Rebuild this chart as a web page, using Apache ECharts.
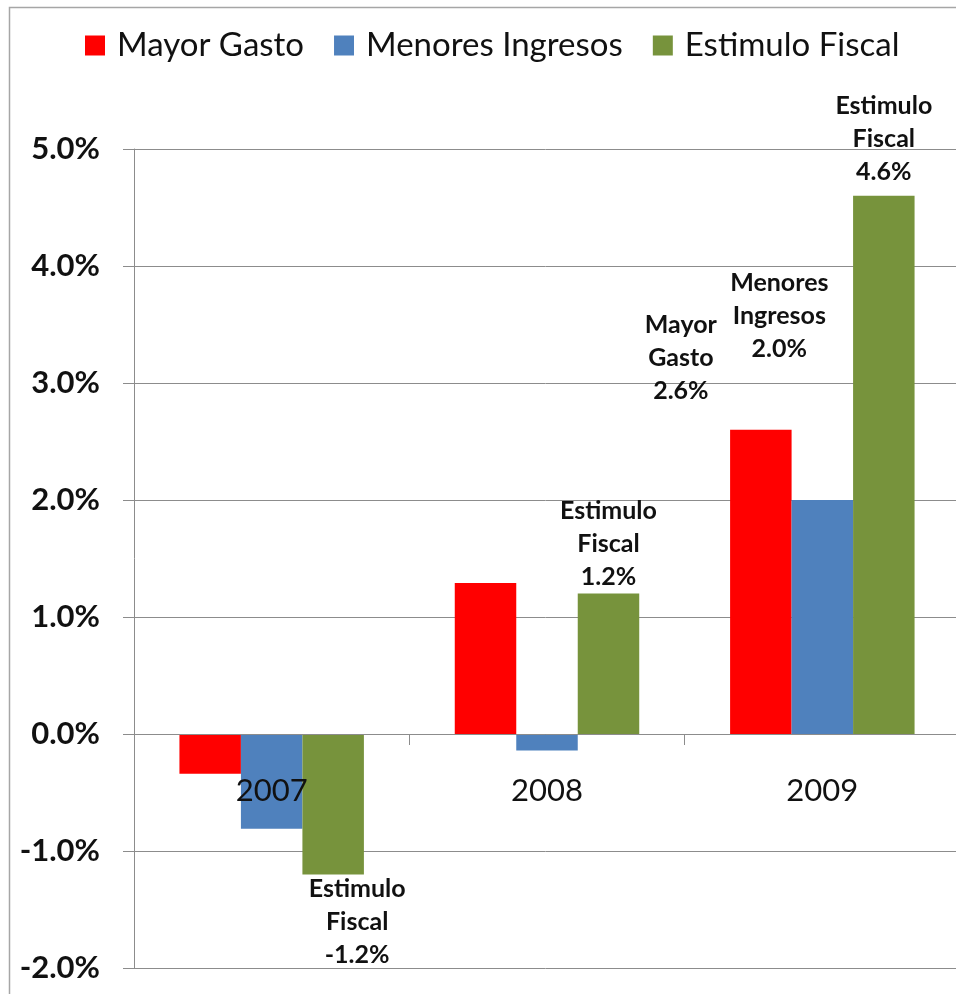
<!DOCTYPE html>
<html>
<head>
<meta charset="utf-8">
<script src="https://cdn.jsdelivr.net/npm/echarts@6/dist/echarts.min.js"></script>
<style>
  html, body { margin: 0; padding: 0; background: #ffffff; }
  #chart { width: 956px; height: 994px; }
</style>
</head>
<body>
<div id="chart"></div>
<script>
// Fiscal impulse by component, share of GDP
const categories = ['2007', '2008', '2009'];
const mayorGasto = [-0.34, 1.29, 2.6];
const menoresIngresos = [-0.81, -0.14, 2.0];
const estimuloFiscal = [-1.2, 1.2, 4.6];
const yMin = -2;
const yMax = 5;
const yStep = 1;

const FONT = 'Lato, "Open Sans", sans-serif';

function labelText(p) {
  return p.seriesName.replace(' ', '\n') + '\n' + p.value.toFixed(1) + '%';
}

const labelStyle = {
  show: true,
  formatter: labelText,
  fontFamily: FONT,
  fontWeight: 'bold',
  fontSize: 25,
  lineHeight: 33,
  color: '#111111'
};

// Per-point label placement
function withLabels(values, labels) {
  return values.map(function (v, i) {
    const l = labels[i];
    if (!l) return v;
    return { value: v, label: Object.assign({}, labelStyle, l) };
  });
}

const chart = echarts.init(document.getElementById('chart'), null, { renderer: 'canvas' });

chart.setOption({
  backgroundColor: '#ffffff',
  animation: false,
  graphic: [{
    type: 'rect',
    left: 7,
    top: 5,
    shape: { width: 960, height: 988 },
    style: { fill: 'none', stroke: '#a6a6a6', lineWidth: 1.5 },
    silent: true,
    z: -1
  }],
  legend: {
    left: 80,
    top: 24,
    itemWidth: 20,
    itemHeight: 20,
    itemGap: 30,
    icon: 'rect',
    textStyle: {
      fontFamily: FONT,
      fontSize: 33,
      color: '#111111',
      padding: [0, 0, 0, 7]
    },
    data: ['Mayor Gasto', 'Menores Ingresos', 'Estimulo Fiscal']
  },
  grid: {
    left: 134,
    right: -4,
    top: 149,
    bottom: 26,
    containLabel: false,
    outerBoundsMode: 'none'
  },
  xAxis: {
    type: 'category',
    data: categories,
    z: 5,
    axisLine: { onZero: true, lineStyle: { color: '#8c8c8c', width: 1 } },
    axisTick: { show: true, length: 11, lineStyle: { color: '#8c8c8c' } },
    axisLabel: {
      // category names sit just under the zero line, drawn over the bars
      margin: -193,
      verticalAlign: 'top',
      fontFamily: FONT,
      fontSize: 31,
      color: '#111111'
    }
  },
  yAxis: {
    type: 'value',
    min: yMin,
    max: yMax,
    interval: yStep,
    axisLine: { show: true, lineStyle: { color: '#8c8c8c', width: 1 } },
    axisTick: { show: true, length: 11, lineStyle: { color: '#8c8c8c' } },
    splitLine: { show: true, lineStyle: { color: '#8c8c8c', width: 1 } },
    axisLabel: {
      margin: 34,
      fontFamily: FONT,
      fontWeight: 'bold',
      fontSize: 31,
      color: '#111111',
      formatter: function (v) { return v.toFixed(1) + '%'; }
    }
  },
  series: [
    {
      name: 'Mayor Gasto',
      type: 'bar',
      barGap: '0%',
      barCategoryGap: '33%',
      itemStyle: { color: '#ff0000' },
      data: withLabels(mayorGasto, [null, null, { position: 'top', distance: 5, offset: [-80, -17] }])
    },
    {
      name: 'Menores Ingresos',
      type: 'bar',
      barGap: '0%',
      barCategoryGap: '33%',
      itemStyle: { color: '#4f81bd' },
      data: withLabels(menoresIngresos, [null, null, { position: 'top', distance: 5, offset: [-43, -130] }])
    },
    {
      name: 'Estimulo Fiscal',
      type: 'bar',
      barGap: '0%',
      barCategoryGap: '33%',
      itemStyle: { color: '#77933c' },
      data: withLabels(estimuloFiscal, [
        { position: 'bottom', distance: -2, offset: [24, 0] },
        { position: 'top', distance: 0 },
        { position: 'top', distance: 7 }
      ])
    }
  ]
});
</script>
</body>
</html>
